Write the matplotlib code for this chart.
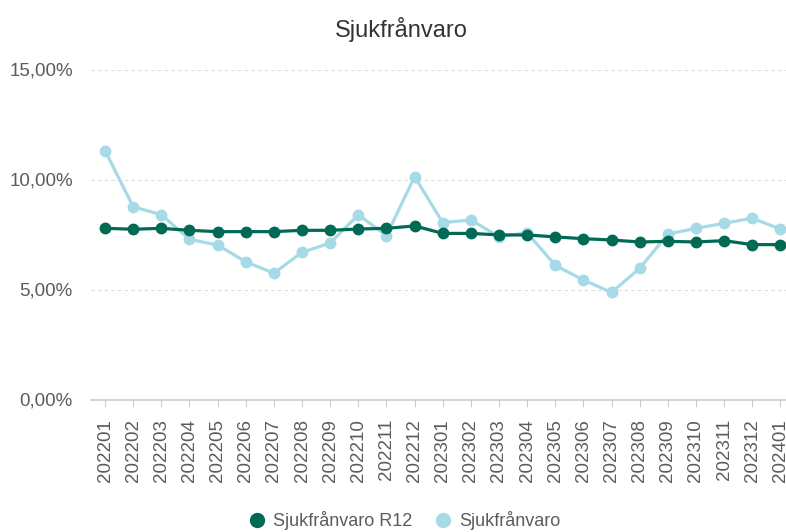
import matplotlib
matplotlib.use("Agg")
import matplotlib.pyplot as plt
from matplotlib.ticker import FuncFormatter
from matplotlib.lines import Line2D

plt.rcParams["font.family"] = ["Liberation Sans", "DejaVu Sans"]

months = [
    "202201", "202202", "202203", "202204", "202205", "202206", "202207",
    "202208", "202209", "202210", "202211", "202212", "202301", "202302",
    "202303", "202304", "202305", "202306", "202307", "202308", "202309",
    "202310", "202311", "202312", "202401",
]
r12 = [
    7.78, 7.74, 7.78, 7.69, 7.63, 7.63, 7.63, 7.69, 7.69, 7.75, 7.78, 7.89,
    7.55, 7.55, 7.48, 7.48, 7.39, 7.31, 7.25, 7.16, 7.19, 7.16, 7.22, 7.04,
    7.04,
]
monthly = [
    11.31, 8.76, 8.40, 7.28, 7.02, 6.26, 5.74, 6.69, 7.11, 8.40, 7.45, 10.13,
    8.04, 8.16, 7.40, 7.58, 6.10, 5.43, 4.87, 5.96, 7.52, 7.78, 8.01, 8.24,
    7.75,
]

DARK = "#006A55"
LIGHT = "#A6DAE6"
GREY = "#5c5c5c"

fig = plt.figure(figsize=(7.86, 5.32), dpi=100)
ax = fig.add_axes([91 / 786, 1 - 399.5 / 532, 1 - 91 / 786, 330 / 532])

x = list(range(len(months)))
ax.plot(x, monthly, color=LIGHT, lw=2.3, marker="o", ms=7.5, zorder=3)
ax.plot(x, r12, color=DARK, lw=2.3, marker="o", ms=7.5, zorder=4)

ax.set_ylim(0, 15)
ax.set_xlim(-0.5, 24.2)
ax.set_yticks([0, 5, 10, 15])
ax.yaxis.set_major_formatter(FuncFormatter(lambda v, p: f"{v:.2f}%".replace(".", ",")))
ax.set_xticks(x)
ax.set_xticklabels(months, rotation=90)
ax.tick_params(axis="y", length=0, pad=13, labelsize=13.5, labelcolor=GREY)
ax.tick_params(axis="x", length=5, color="#cccccc", pad=9, labelsize=13.5, labelcolor=GREY)

ax.grid(axis="y", color="#dddddd", ls=(0, (3, 3)), lw=0.8)
ax.set_axisbelow(True)
for s in ["top", "right", "left"]:
    ax.spines[s].set_visible(False)
ax.spines["bottom"].set_color("#cccccc")
ax.spines["bottom"].set_linewidth(1.2)

fig.text(401 / 786, 1 - 30 / 532, "Sjukfrånvaro", ha="center", va="center",
         fontsize=17, color="#333333")

handles = [
    Line2D([], [], ls="none", marker="o", ms=10, color=DARK),
    Line2D([], [], ls="none", marker="o", ms=10, color=LIGHT),
]
fig.legend(handles, ["Sjukfrånvaro R12", "Sjukfrånvaro"], loc="center",
           bbox_to_anchor=(404 / 786, 1 - 521 / 532), ncol=2, frameon=False,
           fontsize=13, labelcolor=GREY, handletextpad=0.4, columnspacing=1.2,
           handlelength=1.0)

fig.savefig("out.png", dpi=100)
